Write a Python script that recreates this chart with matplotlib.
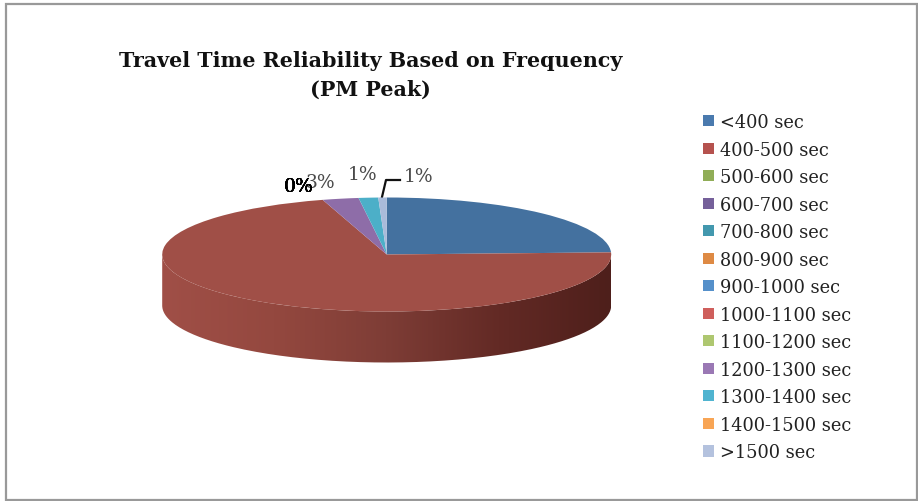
import matplotlib
matplotlib.use("Agg")
from matplotlib import pyplot as plt
from matplotlib.patches import Patch, PathPatch, Rectangle
from matplotlib.path import Path
import numpy as np

# slices, clockwise from 12 o'clock
categories = ["<400 sec", "400-500 sec", "500-600 sec", "600-700 sec", "700-800 sec",
              "800-900 sec", "900-1000 sec", "1000-1100 sec", "1100-1200 sec",
              "1200-1300 sec", "1300-1400 sec", "1400-1500 sec", ">1500 sec"]
shares = [24.4, 71.0, 0, 0, 0, 0, 0, 0, 0, 2.6, 1.4, 0, 0.6]
pie_colors = ["#44719F", "#A04F47", "#8AA552", "#735A92", "#439AB0", "#DC8640", "#4F86BE",
              "#B9534F", "#A5BE6D", "#8E6DA8", "#4CAFC8", "#F59F50", "#A9BBDA"]
legend_colors = ["#4A7AAE", "#B5524E", "#90AD57", "#75609A", "#4398AE", "#DE8A44", "#5590CA",
                 "#CF5F5C", "#AEC770", "#9A78B4", "#50B4D0", "#F8A555", "#B4C2DE"]
wall_colors = ["#A04F47", "#94483F", "#7E3D36", "#632A25", "#4E1F1B"]

W, H = 918, 502
CX, CY, RX, RY = 386.7, 255.5, 224.5, 57
WALL = 51

fig = plt.figure(figsize=(W / 100, H / 100), dpi=100, facecolor="white")

# page layer in pixel coordinates
bg = fig.add_axes([0, 0, 1, 1])
bg.set_xlim(0, W)
bg.set_ylim(H, 0)
bg.axis("off")
bg.add_patch(Rectangle((5.5, 5), 911, 496, fill=False, ec="#999999", lw=1.6))

# pie stretched flat to look tilted, axes tall enough to hold the wall too
dy = WALL / RY
ax = fig.add_axes([(CX - RX) / W, 1 - (CY + RY + WALL) / H, 2 * RX / W, (2 * RY + WALL) / H])
wedges, _ = ax.pie(shares, colors=pie_colors, startangle=90, counterclock=False, radius=1)
for w in wedges:
    w.set_zorder(2)

# side wall under the red slice, dark towards the right
t = np.radians(np.linspace(180, 360, 200))
x = np.cos(t)
y = np.sin(t)
verts = np.r_[np.c_[x, y], np.c_[x[::-1], y[::-1] - dy], [[x[0], y[0]]]]
stops = np.array([matplotlib.colors.to_rgb(c) for c in wall_colors])
grad = np.array([np.interp(np.linspace(0, 1, 300), np.linspace(0, 1, len(stops)), stops[:, k])
                 for k in range(3)]).T[None, :, :]
im = ax.imshow(grad, extent=(-1, 1, -1 - dy, 0), aspect="auto", zorder=0)
clip = PathPatch(Path(verts), transform=ax.transData, fc="none", ec="none")
ax.add_patch(clip)
im.set_clip_path(clip)
ax.set_aspect("auto")
ax.set_xlim(-1, 1)
ax.set_ylim(-1 - dy, 1)

SERIF = "DejaVu Serif"

# title
bg.text(370.5, 61, "Travel Time Reliability Based on Frequency", ha="center", va="center",
        family=SERIF, weight="bold", fontsize=14.9, color="#111111")
bg.text(370.5, 90, "(PM Peak)", ha="center", va="center",
        family=SERIF, weight="bold", fontsize=14.9, color="#111111")

# percent labels
def pct(v):
    return f"{round(v)}%"

lab = dict(ha="center", va="center", family=SERIF, fontsize=13.5)
bg.text(480, 228, pct(shares[0]), color="#1A1A2A", **lab)
bg.text(305, 291, pct(shares[1]), color="#2A1512", **lab)
bg.text(320, 183, pct(shares[9]), color="#4A4A4A", **lab)
for i in [2, 3, 4, 5, 6, 7, 8, 11]:
    bg.text(299, 187, pct(shares[i]), color="black", **lab)
bg.text(363, 175, pct(shares[10]), color="#4A4A4A", **lab)
bg.text(419, 177, pct(shares[12]), color="#4A4A4A", **lab)
bg.plot([382, 386, 400], [198, 181, 181], color="#111111", lw=1.6)

# legend
handles = [Patch(fc=c, ec="none") for c in legend_colors]
leg = bg.legend(handles, categories, loc="upper left", bbox_to_anchor=(703 / W, 1 - 114 / H),
                bbox_transform=fig.transFigure, frameon=False, ncol=1,
                prop={"family": SERIF, "size": 12.8}, handlelength=0.6, handleheight=0.6,
                handletextpad=0.35, labelspacing=0.535, borderpad=0, borderaxespad=0)
for txt in leg.get_texts():
    txt.set_color("#222222")

fig.savefig("out.png", dpi=100, facecolor="white")
